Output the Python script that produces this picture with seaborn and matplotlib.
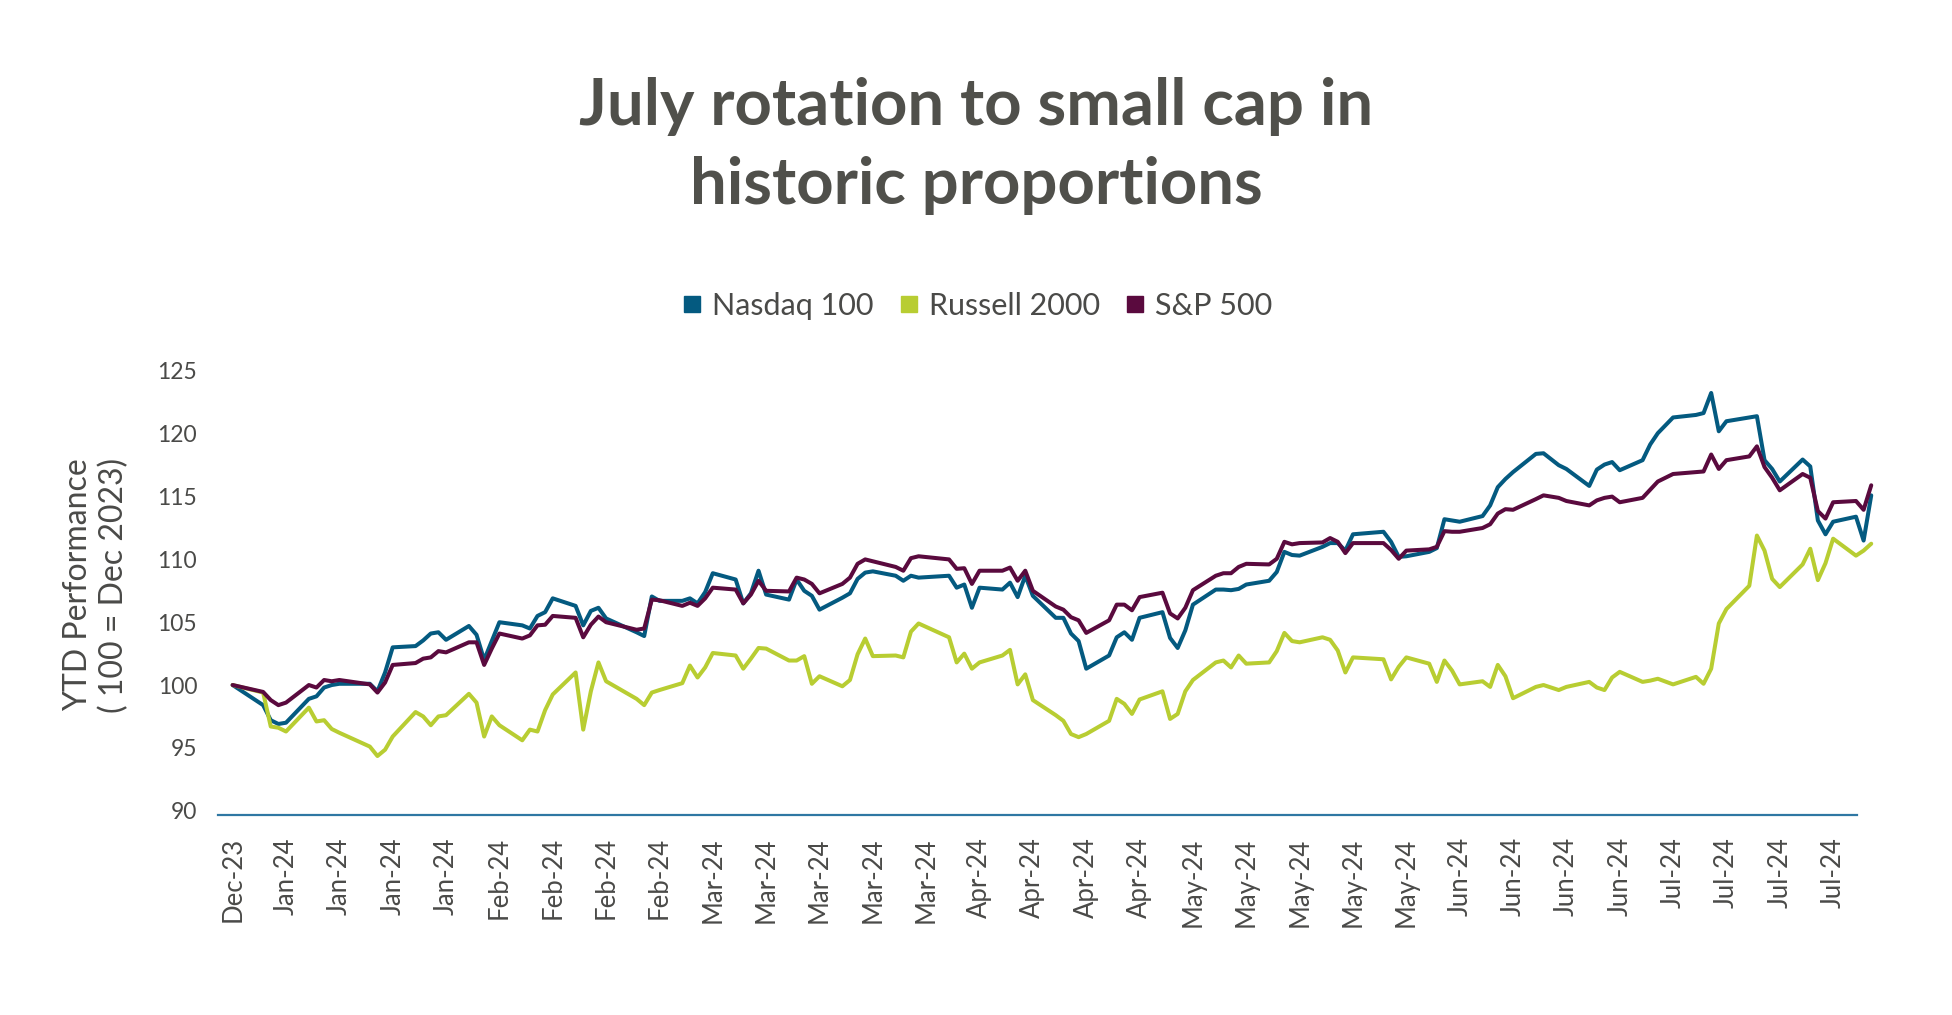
import matplotlib
matplotlib.use("Agg")
import matplotlib.pyplot as plt
from matplotlib.lines import Line2D
import seaborn as sns
import pandas as pd

# trading days, Dec 29 2023 .. Jul 31 2024
holidays = ["2024-01-01", "2024-01-15", "2024-02-19", "2024-03-29",
            "2024-05-27", "2024-06-19", "2024-07-04"]
dates = pd.bdate_range("2023-12-29", "2024-07-31", freq="C", holidays=holidays)

# YTD performance, 100 = Dec 2023
nasdaq = [100.0,
          98.4, 97.2, 96.9, 97.0, 98.9, 99.1, 99.8, 100.0, 100.1, 100.1, 99.5, 101.0, 103.0, 103.1, 103.55, 104.1, 104.2, 103.6, 104.7, 104.0, 102.0,
          103.5, 105.0, 104.75, 104.5, 105.5, 105.8, 106.9, 106.3, 104.75, 105.9, 106.15, 105.3, 104.2, 103.9, 107.05, 106.7, 106.7, 106.9, 106.5, 107.4,
          108.9, 108.4, 106.5, 107.3, 109.1, 107.2, 106.8, 108.4, 107.5, 107.1, 106.0, 106.95, 107.3, 108.45, 108.95, 109.05, 108.7, 108.3, 108.7, 108.55,
          108.7, 107.75, 108.0, 106.15, 107.75, 107.6, 108.15, 107.0, 108.7, 107.1, 105.35, 105.35, 104.1, 103.5, 101.3, 102.35, 103.8, 104.2, 103.6, 105.35, 105.8, 103.75,
          102.95, 104.35, 106.4, 107.6, 107.6, 107.55, 107.65, 108.0, 108.3, 109.0, 110.6, 110.35, 110.3, 111.0, 111.3, 111.3, 110.7, 112.0, 112.2, 111.4, 110.2, 110.25,
          110.6, 110.9, 113.2, 113.1, 113.0, 113.45, 114.3, 115.75, 116.4, 116.95, 118.4, 118.45, 117.5, 117.2, 115.85, 117.15, 117.55, 117.75, 117.1,
          117.9, 119.15, 120.05, 121.3, 121.5, 121.65, 123.25, 120.2, 121.0, 121.3, 121.4, 117.9, 117.2, 116.2, 117.95, 117.4, 113.1, 112.0, 113.0, 113.4, 111.5, 115.1]

russell = [100.0,
           99.4, 96.7, 96.6, 96.3, 98.2, 97.1, 97.2, 96.5, 96.2, 95.1, 94.35, 94.85, 95.9, 97.85, 97.5, 96.8, 97.5, 97.6, 99.3, 98.6, 95.9,
           97.5, 96.8, 95.6, 96.45, 96.3, 98.0, 99.25, 101.0, 96.45, 99.5, 101.8, 100.3, 98.9, 98.4, 99.4, 99.6, 100.15, 101.55, 100.6, 101.4,
           102.55, 102.35, 101.3, 102.1, 102.95, 102.9, 101.95, 101.95, 102.3, 100.1, 100.7, 99.9, 100.4, 102.45, 103.7, 102.3, 102.35, 102.2, 104.25, 104.9,
           103.8, 101.8, 102.5, 101.3, 101.8, 102.35, 102.8, 100.05, 100.85, 98.8, 97.6, 97.15, 96.1, 95.85, 96.1, 97.15, 98.9, 98.5, 97.7, 98.85, 99.5, 97.3,
           97.7, 99.5, 100.4, 101.8, 101.95, 101.4, 102.35, 101.7, 101.8, 102.7, 104.15, 103.5, 103.4, 103.8, 103.6, 102.75, 101.0, 102.2, 102.05, 100.45, 101.45, 102.2,
           101.7, 100.25, 101.95, 101.15, 100.05, 100.3, 99.85, 101.6, 100.7, 98.95, 99.85, 100.0, 99.6, 99.85, 100.25, 99.8, 99.6, 100.6, 101.05,
           100.25, 100.35, 100.5, 100.05, 100.65, 100.1, 101.3, 104.9, 106.05, 107.9, 111.9, 110.7, 108.45, 107.8, 109.6, 110.85, 108.35, 109.7, 111.65, 110.3, 110.7, 111.25]

sp500 = [100.0,
         99.45, 98.8, 98.4, 98.6, 100.0, 99.8, 100.4, 100.3, 100.4, 100.05, 99.4, 100.2, 101.6, 101.75, 102.1, 102.2, 102.7, 102.6, 103.4, 103.4, 101.6,
         102.9, 104.1, 103.7, 103.95, 104.75, 104.8, 105.5, 105.35, 103.8, 104.8, 105.45, 105.0, 104.4, 104.5, 106.8, 106.75, 106.3, 106.55, 106.3, 106.9,
         107.75, 107.6, 106.5, 107.2, 108.3, 107.5, 107.45, 108.55, 108.4, 108.05, 107.3, 108.05, 108.55, 109.65, 110.0, 109.85, 109.4, 109.1, 110.1, 110.25,
         110.0, 109.25, 109.3, 108.05, 109.1, 109.1, 109.35, 108.3, 109.1, 107.5, 106.25, 106.0, 105.4, 105.15, 104.15, 105.15, 106.4, 106.4, 105.95, 107.0, 107.35, 105.7,
         105.3, 106.15, 107.55, 108.7, 108.9, 108.9, 109.4, 109.65, 109.6, 110.05, 111.4, 111.2, 111.3, 111.35, 111.7, 111.4, 110.5, 111.3, 111.3, 110.75, 110.05, 110.7,
         110.8, 111.0, 112.25, 112.2, 112.2, 112.5, 112.8, 113.65, 114.0, 113.95, 114.8, 115.1, 114.9, 114.65, 114.3, 114.7, 114.9, 115.0, 114.55,
         114.9, 115.55, 116.2, 116.8, 116.95, 117.0, 118.35, 117.2, 117.9, 118.2, 119.0, 117.35, 116.5, 115.5, 116.8, 116.5, 113.85, 113.25, 114.55, 114.65, 113.95, 115.9]

series = ["Nasdaq 100", "Russell 2000", "S&P 500"]
colors = {"Nasdaq 100": "#045a80", "Russell 2000": "#b8cd32", "S&P 500": "#5a0a3e"}
tick_dates = pd.date_range("2023-12-29", "2024-07-26", freq="7D")
text_color = "#4a4a48"

df = pd.DataFrame({"Date": dates, "Nasdaq 100": nasdaq, "Russell 2000": russell, "S&P 500": sp500})
long_df = df.melt(id_vars="Date", var_name="Index", value_name="Value")

sns.set_theme(style="white")
plt.rcParams["font.family"] = ["Lato", "DejaVu Sans"]

fig = plt.figure(figsize=(19.52, 10.15), dpi=100)
ax = fig.add_axes([0.1117, 0.197, 0.8396, 0.4375])

sns.lineplot(data=long_df, x="Date", y="Value", hue="Index", hue_order=series,
             palette=colors, linewidth=2.9, legend=False, ax=ax)
for ln in ax.lines:
    ln.set_clip_on(False)

ax.set_xlim(pd.Timestamp("2023-12-27 02:00"), pd.Timestamp("2024-07-29 03:00"))
ax.set_ylim(89.65, 125)
ax.set_yticks(range(90, 126, 5))
ax.set_xticks(tick_dates)
ax.set_xticklabels([d.strftime("%b-%y") for d in tick_dates], rotation=90)

for s in ["top", "right", "left"]:
    ax.spines[s].set_visible(False)
ax.spines["bottom"].set_color("#2f77a3")
ax.spines["bottom"].set_linewidth(1.6)
ax.tick_params(axis="both", length=0, colors=text_color)
ax.tick_params(axis="y", labelsize=16.5, pad=15)
ax.tick_params(axis="x", labelsize=18.5, pad=16)
ax.set_xlabel("")
ax.set_ylabel("YTD Performance\n( 100 = Dec 2023)", fontsize=23, color=text_color, linespacing=1.25)
ax.yaxis.set_label_coords(-0.054, 0.518)

fig.text(0.5, 0.856, "July rotation to small cap in\nhistoric proportions", ha="center", va="center",
         fontsize=47, fontweight="bold", color="#50504b", linespacing=1.42)

handles = [Line2D([], [], marker="s", linestyle="", markersize=12, color=colors[s]) for s in series]
fig.legend(handles, series, loc="center", bbox_to_anchor=(0.5, 0.699), ncol=3, frameon=False,
           fontsize=22, labelcolor=text_color, handlelength=0.8, handletextpad=0.25,
           columnspacing=0.75)

fig.savefig("out.png", dpi=100)
